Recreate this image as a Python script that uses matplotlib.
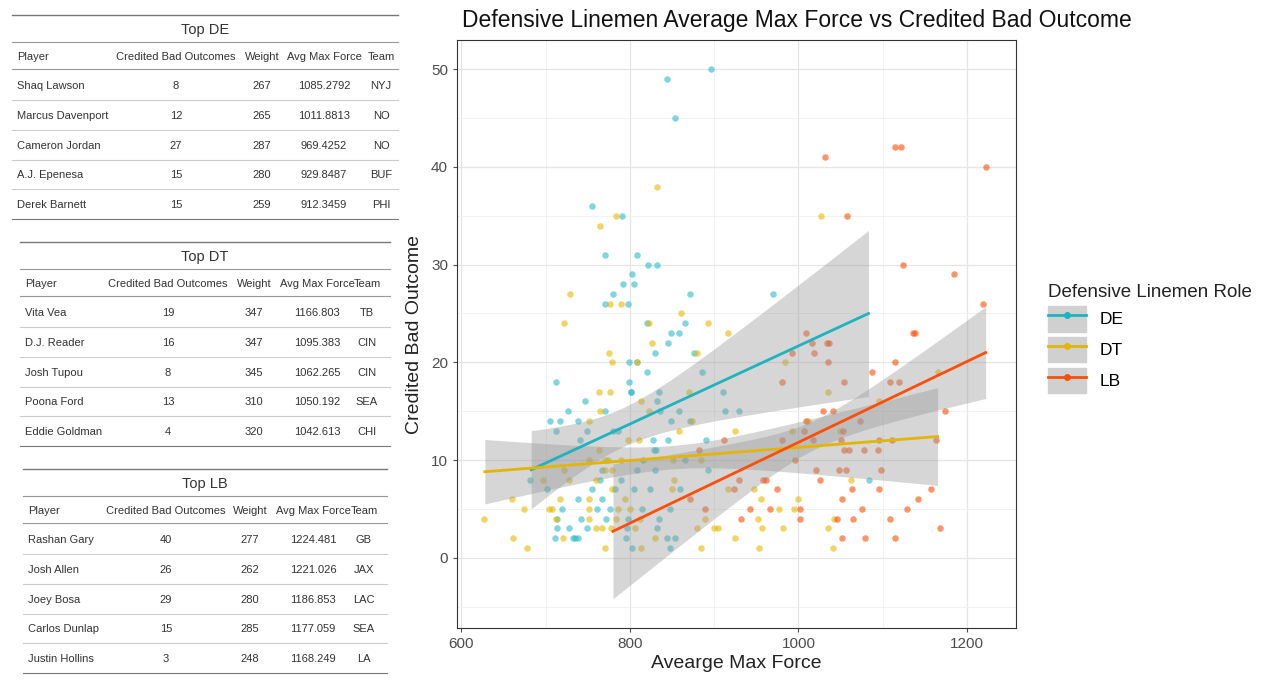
import matplotlib.pyplot as plt
import numpy as np
from matplotlib.lines import Line2D
from matplotlib.patches import Patch
from matplotlib.legend_handler import HandlerTuple

plt.rcParams['font.family'] = ['Liberation Sans', 'DejaVu Sans']

# scatter data: (avg max force, credited bad outcomes)
de_x = [896, 844, 854, 755, 791, 770, 809, 822, 832, 803, 792, 805, 780, 871, 970, 771, 798,
        820, 865, 849, 858, 845, 830, 876, 799, 809, 820, 885, 713, 799, 801, 801, 835, 910,
        747, 832, 727, 771, 836, 858, 913, 930, 705, 717, 739, 849, 871, 713, 749, 780, 786,
        741, 827, 845, 890, 829, 831, 816, 865, 767, 809, 830, 893, 681, 765, 789, 1084,
        702, 755, 782, 805, 824, 859, 738, 767, 719, 761, 776, 815, 848, 714, 742, 772, 798,
        835, 714, 728, 749, 797, 832, 711, 732, 735, 738, 795, 844, 854, 803, 848]
de_y = [50, 49, 45, 36, 35, 31, 31, 30, 30, 29, 28, 28, 27, 27, 27, 26, 26,
        24, 24, 23, 23, 22, 21, 21, 20, 20, 19, 19, 18, 18, 17, 17, 17, 17,
        16, 16, 15, 15, 15, 15, 15, 15, 14, 14, 14, 14, 14, 13, 13, 13, 13,
        12, 12, 12, 12, 11, 11, 10, 10, 9, 9, 9, 9, 8, 8, 8, 8,
        7, 7, 7, 7, 7, 7, 6, 6, 5, 5, 5, 5, 5, 4, 4, 4, 4,
        4, 3, 3, 3, 3, 3, 2, 2, 2, 2, 2, 2, 2, 1, 1]

dt_x = [832, 765, 784, 1027, 729, 776, 789, 861, 722, 823, 893, 917, 826, 775, 880, 779, 809,
        984, 1166, 764, 776, 870, 1035, 813, 1095, 765, 823, 752, 874, 1011, 858, 925, 992,
        1049, 798, 811, 763, 752, 770, 774, 789, 851, 884, 722, 770, 779, 697, 728, 760, 852,
        1062, 779, 850, 917, 947, 660, 717, 752, 794, 955, 999, 675, 704, 708, 752, 786, 800,
        977, 995, 627, 713, 751, 784, 812, 889, 952, 1042, 760, 767, 778, 806, 880, 900, 904,
        957, 982, 1035, 662, 721, 830, 925, 678, 771, 813, 884, 953, 1041]
dt_y = [38, 34, 35, 35, 27, 26, 26, 25, 24, 24, 24, 23, 22, 21, 21, 20, 20,
        20, 19, 17, 17, 17, 17, 16, 16, 15, 15, 14, 14, 14, 13, 13, 13,
        13, 12, 12, 11, 10, 10, 10, 10, 10, 10, 9, 9, 9, 8, 8, 8, 8,
        8, 7, 7, 7, 7, 6, 6, 6, 6, 6, 6, 5, 5, 5, 5, 5, 5,
        5, 5, 4, 4, 4, 4, 4, 4, 4, 4, 3, 3, 3, 3, 3, 3, 3,
        3, 3, 3, 2, 2, 2, 2, 1, 1, 1, 1, 1, 1]

lb_x = [1031, 1115, 1122, 1223, 1057, 1124, 1184, 1219, 1009, 1136, 1138, 1016, 1034, 1036,
        992, 1019, 1035, 1114, 1087, 981, 1054, 1109, 1119, 1029, 1041, 1174, 1009, 1073,
        1007, 1053, 912, 981, 1017, 1050, 1095, 1111, 1163, 882, 1054, 1060, 1078, 1094,
        996, 1021, 1048, 1056, 1098, 930, 958, 962, 1025, 923, 974, 1063, 1096, 1157,
        871, 1052, 1142, 889, 942, 966, 1002, 1075, 1129, 932, 1002, 1046, 1065, 1108,
        1168, 1052, 1079, 1114]
lb_y = [41, 42, 42, 40, 35, 30, 29, 26, 23, 23, 23, 22, 22, 22,
        21, 21, 20, 20, 19, 18, 18, 18, 18, 15, 15, 15, 14, 14,
        13, 13, 12, 12, 12, 12, 12, 12, 12, 11, 11, 11, 11, 11,
        10, 9, 9, 9, 9, 8, 8, 8, 8, 7, 7, 7, 7, 7,
        6, 6, 6, 5, 5, 5, 5, 5, 5, 4, 4, 4, 4, 4,
        3, 2, 2, 2]

# fitted lines: x range, y at ends, band half widths (left, min, right), x of min
fits = {
    'DE': dict(x=(683, 1083), y=(9.0, 25.0), hw=(4.0, 2.0, 8.5), xc=790, color='#1fb3bf'),
    'DT': dict(x=(628, 1165), y=(8.8, 12.4), hw=(3.3, 1.2, 5.0), xc=850, color='#e3b505'),
    'LB': dict(x=(780, 1222), y=(2.7, 21.0), hw=(6.9, 1.5, 4.7), xc=1020, color='#fc4e07'),
}
point_colors = {'DE': '#2bbcc6', 'DT': '#e6b800', 'LB': '#fc4e07'}

tables = [
    ("Top DE",
     [("Shaq Lawson", 8, 267, "1085.2792", "NYJ"),
      ("Marcus Davenport", 12, 265, "1011.8813", "NO"),
      ("Cameron Jordan", 27, 287, "969.4252", "NO"),
      ("A.J. Epenesa", 15, 280, "929.8487", "BUF"),
      ("Derek Barnett", 15, 259, "912.3459", "PHI")]),
    ("Top DT",
     [("Vita Vea", 19, 347, "1166.803", "TB"),
      ("D.J. Reader", 16, 347, "1095.383", "CIN"),
      ("Josh Tupou", 8, 345, "1062.265", "CIN"),
      ("Poona Ford", 13, 310, "1050.192", "SEA"),
      ("Eddie Goldman", 4, 320, "1042.613", "CHI")]),
    ("Top LB",
     [("Rashan Gary", 40, 277, "1224.481", "GB"),
      ("Josh Allen", 26, 262, "1221.026", "JAX"),
      ("Joey Bosa", 29, 280, "1186.853", "LAC"),
      ("Carlos Dunlap", 15, 285, "1177.059", "SEA"),
      ("Justin Hollins", 3, 248, "1168.249", "LA")]),
]
headers = ["Player", "Credited Bad Outcomes", "Weight", "Avg Max Force", "Team"]

W, H = 1272, 686
fig = plt.figure(figsize=(W / 100, H / 100), dpi=100)


def fx(px):
    return px / W


def fy(py):
    return 1 - py / H


# tables on the left (pixel layout)
table_layout = [
    dict(x0=12, x1=398, top=15, cols=[17, 176, 262, 324, 381]),
    dict(x0=20, x1=390, top=242, cols=[25, 168, 254, 317, 367]),
    dict(x0=23, x1=387, top=469, cols=[28, 166, 250, 313, 364]),
]
for (title, rows), lay in zip(tables, table_layout):
    t = lay['top']
    xs = [fx(lay['x0']), fx(lay['x1'])]
    fig.add_artist(Line2D(xs, [fy(t)] * 2, color='#777777', lw=1))
    fig.text(fx((lay['x0'] + lay['x1']) / 2), fy(t + 15), title, ha='center', va='center',
             fontsize=10.5, color='#333333')
    fig.add_artist(Line2D(xs, [fy(t + 27)] * 2, color='#999999', lw=0.8))
    for j, h in enumerate(headers):
        fig.text(fx(lay['cols'][j]), fy(t + 42), h, ha='left' if j == 0 else 'center',
                 va='center', fontsize=8, color='#333333')
    fig.add_artist(Line2D(xs, [fy(t + 54)] * 2, color='#999999', lw=0.8))
    for i, row in enumerate(rows):
        yc = t + 71 + i * 29.8
        for j, v in enumerate(row):
            fig.text(fx(lay['cols'][j]), fy(yc), str(v), ha='left' if j == 0 else 'center',
                     va='center', fontsize=8, color='#333333')
        ys = t + 85 + i * 29.8
        fig.add_artist(Line2D(xs, [fy(ys)] * 2,
                              color='#777777' if i == 4 else '#cccccc', lw=0.8))

# scatter panel
ax = fig.add_axes([457 / W, 1 - 628 / H, 559 / W, 588 / H])
for key, xs_, ys_ in [('DE', de_x, de_y), ('DT', dt_x, dt_y), ('LB', lb_x, lb_y)]:
    ax.scatter(xs_, ys_, s=22, color=point_colors[key], alpha=0.6, lw=0, zorder=2)

for key, f in fits.items():
    x = np.linspace(f['x'][0], f['x'][1], 80)
    y = np.interp(x, f['x'], f['y'])
    hl, hm, hr = f['hw']
    xc = f['xc']
    # hyperbolic confidence-band shape through the read half widths
    bl = np.sqrt(max(hl ** 2 - hm ** 2, 0)) / abs(xc - f['x'][0])
    br = np.sqrt(max(hr ** 2 - hm ** 2, 0)) / abs(f['x'][1] - xc)
    b = np.where(x < xc, bl, br)
    hw = np.sqrt(hm ** 2 + (b * (x - xc)) ** 2)
    ax.fill_between(x, y - hw, y + hw, color='#999999', alpha=0.4, lw=0, zorder=3)
    ax.plot(x, y, color=f['color'], lw=2, zorder=4)

ax.set_xlim(595, 1258)
ax.set_ylim(-7.2, 53)
ax.set_xticks([600, 800, 1000, 1200])
ax.set_yticks([0, 10, 20, 30, 40, 50])
ax.set_xticks([700, 900, 1100], minor=True)
ax.set_yticks([-5, 5, 15, 25, 35, 45], minor=True)
ax.grid(True, which='major', color='#e5e5e5', lw=0.9)
ax.grid(True, which='minor', color='#f0f0f0', lw=0.6)
ax.set_axisbelow(True)
ax.tick_params(which='minor', length=0)
ax.tick_params(labelsize=11, colors='#4d4d4d', length=3)
for s in ax.spines.values():
    s.set_color('#333333')
ax.set_xlabel('Avearge Max Force', fontsize=14, color='#222222', labelpad=3)
ax.set_ylabel('Credited Bad Outcome', fontsize=14, color='#222222', labelpad=6)
fig.text(fx(462), fy(20), 'Defensive Linemen Average Max Force vs Credited Bad Outcome',
         fontsize=16.5, ha='left', va='center', color='#111111')

handles = [(Patch(color='#d0d0d0'), Line2D([], [], color=fits[k]['color'], lw=2,
                                           marker='o', ms=4, alpha=1)) for k in fits]
leg = fig.legend(handles, list(fits), handler_map={tuple: HandlerTuple(ndivide=1)},
                 title='Defensive Linemen Role', loc='upper left',
                 bbox_to_anchor=(fx(1032), fy(268)), frameon=False, fontsize=12.5,
                 title_fontsize=13.5, handlelength=2.2, handleheight=1.9, labelspacing=0.3,
                 alignment='left')
leg.get_title().set_color('#222222')

fig.savefig('out.png', dpi=100)
